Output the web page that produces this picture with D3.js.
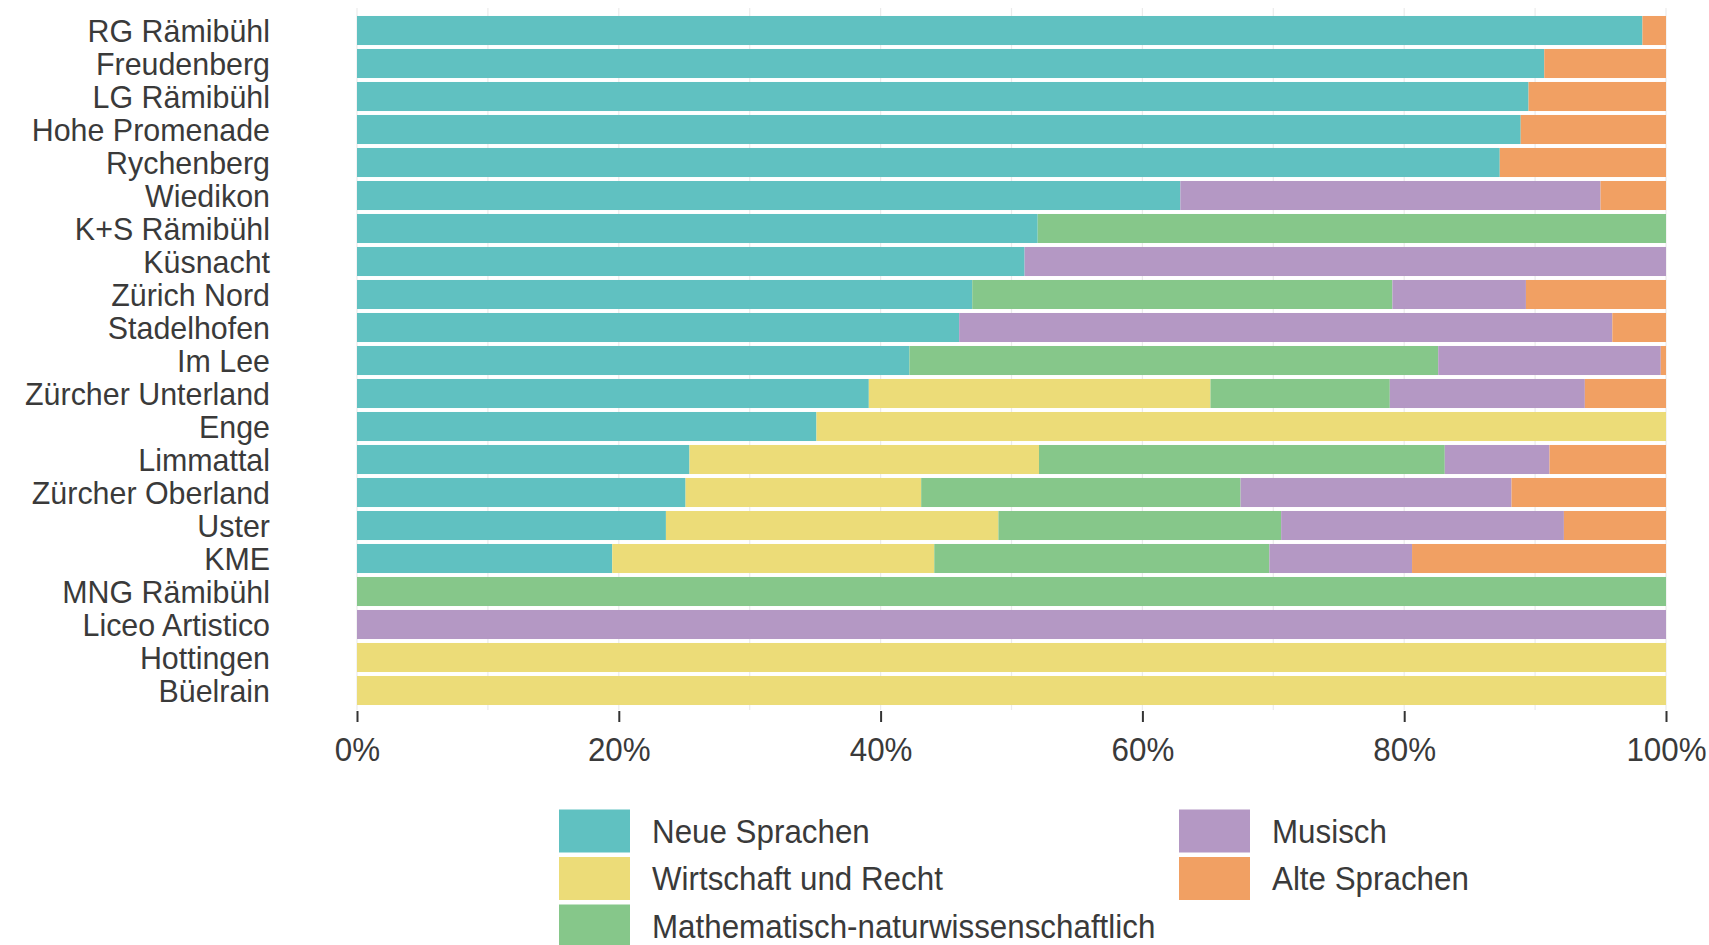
<!DOCTYPE html>
<html>
<head>
<meta charset="utf-8">
<script src="https://cdn.jsdelivr.net/npm/d3@7.9.0/dist/d3.min.js"></script>
<style>
  html, body { margin: 0; padding: 0; background: #fff; }
  svg text { font-family: "Liberation Sans", Arial, sans-serif; fill: #3a3a3a; }
</style>
</head>
<body>
<div id="chart"></div>
<script>
// schools, top to bottom
const schools = ['RG Rämibühl', 'Freudenberg', 'LG Rämibühl', 'Hohe Promenade', 'Rychenberg',
  'Wiedikon', 'K+S Rämibühl', 'Küsnacht', 'Zürich Nord', 'Stadelhofen', 'Im Lee',
  'Zürcher Unterland', 'Enge', 'Limmattal', 'Zürcher Oberland', 'Uster', 'KME',
  'MNG Rämibühl', 'Liceo Artistico', 'Hottingen', 'Büelrain'];

const categories = ['Neue Sprachen', 'Wirtschaft und Recht', 'Mathematisch-naturwissenschaftlich', 'Musisch', 'Alte Sprachen'];

// share per school in percent
const neueSprachen = [98.2, 90.7, 89.5, 88.9, 87.3, 62.9, 52.0, 51.0, 47.0, 46.0, 42.2, 39.1, 35.1, 25.4, 25.1, 23.6, 19.5, 0, 0, 0, 0];
const wirtschaft   = [0, 0, 0, 0, 0, 0, 0, 0, 0, 0, 0, 26.1, 64.9, 26.7, 18.0, 25.4, 24.6, 0, 0, 100, 100];
const mathe        = [0, 0, 0, 0, 0, 0, 48.0, 0, 32.1, 0, 40.4, 13.7, 0, 31.0, 24.4, 21.6, 25.6, 100, 0, 0, 0];
const musisch      = [0, 0, 0, 0, 0, 32.1, 0, 49.0, 10.2, 49.9, 17.0, 14.9, 0, 8.0, 20.7, 21.6, 10.9, 0, 100, 0, 0];
const alteSprachen = [1.8, 9.3, 10.5, 11.1, 12.7, 5.0, 0, 0, 10.7, 4.1, 0.4, 6.2, 0, 8.9, 11.8, 7.8, 19.4, 0, 0, 0, 0];

const xTicks = [0, 20, 40, 60, 80, 100];
const colors = ['#60c1c1', '#ecdc78', '#86c78a', '#b498c4', '#f1a063'];

const series = [neueSprachen, wirtschaft, mathe, musisch, alteSprachen];
const rows = schools.map((s, i) => {
  const r = { school: s };
  categories.forEach((c, k) => { r[c] = series[k][i]; });
  return r;
});

const width = 1709;
const height = 945;
const margin = { top: 14, right: 43, bottom: 238, left: 357 };
const squeeze = 0.95; // condensed look of the original text

const svg = d3.select('#chart')
  .append('svg')
  .attr('width', width)
  .attr('height', height);

const x = d3.scaleLinear()
  .domain([0, 100])
  .range([margin.left, width - margin.right]);

const y = d3.scaleBand()
  .domain(schools)
  .range([margin.top, height - margin.bottom])
  .paddingInner(0.12)
  .paddingOuter(0.06);

const color = d3.scaleOrdinal().domain(categories).range(colors);

// gridlines every 10%
svg.append('g')
  .attr('class', 'gridlines')
  .selectAll('line')
  .data(d3.range(0, 101, 10))
  .join('line')
  .attr('x1', d => x(d))
  .attr('x2', d => x(d))
  .attr('y1', margin.top - 6)
  .attr('y2', height - margin.bottom + 3)
  .attr('stroke', '#ebebeb')
  .attr('stroke-width', 1.2);

const stacked = d3.stack().keys(categories)(rows);

svg.append('g')
  .attr('class', 'bars')
  .selectAll('g')
  .data(stacked)
  .join('g')
  .attr('fill', d => color(d.key))
  .selectAll('rect')
  .data(d => d)
  .join('rect')
  .attr('x', d => x(d[0]))
  .attr('y', d => y(d.data.school))
  .attr('width', d => x(d[1]) - x(d[0]))
  .attr('height', y.bandwidth());

// y labels
const yAxis = svg.append('g')
  .attr('transform', `translate(${margin.left - 87}, 0)`)
  .call(d3.axisLeft(y).tickSize(0).tickPadding(0));
yAxis.select('.domain').remove();
yAxis.selectAll('text')
  .attr('font-size', 32)
  .attr('fill', '#3a3a3a')
  .attr('x', 0)
  .attr('dy', '0.36em')
  .attr('transform', `scale(${squeeze},1)`);

// x axis
const xAxis = svg.append('g')
  .attr('transform', `translate(0, ${height - margin.bottom + 4})`)
  .call(d3.axisBottom(x).tickValues(xTicks).tickFormat(d => d + '%').tickSize(11).tickPadding(14));
xAxis.select('.domain').remove();
xAxis.selectAll('line').attr('stroke', '#333').attr('stroke-width', 2);
xAxis.selectAll('.tick text')
  .attr('font-size', 33)
  .attr('fill', '#3a3a3a')
  .attr('dy', '0.75em')
  .attr('transform', `scale(${squeeze},1)`);

// legend, filled column by column
const legend = svg.append('g').attr('class', 'legend');
const legendCols = [559, 1179];
const legendRow0 = 831;
const legendStep = 47.5;

categories.forEach((c, i) => {
  const col = Math.floor(i / 3);
  const row = i % 3;
  const cy = legendRow0 + row * legendStep;
  const g = legend.append('g').attr('transform', `translate(${legendCols[col]}, ${cy})`);
  g.append('rect')
    .attr('x', 0)
    .attr('y', -21.5)
    .attr('width', 71)
    .attr('height', 43)
    .attr('fill', color(c));
  g.append('text')
    .attr('transform', `translate(93, 0) scale(${squeeze},1)`)
    .attr('dy', '0.36em')
    .attr('font-size', 33)
    .text(c);
});
</script>
</body>
</html>
